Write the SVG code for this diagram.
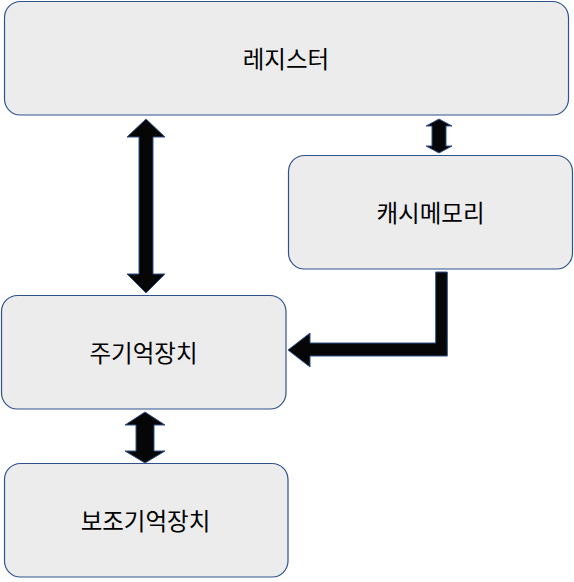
<svg xmlns="http://www.w3.org/2000/svg" width="574" height="582" viewBox="0 0 574 582">
<style>
.box{fill:#ececec;stroke:#2f528f;stroke-width:1.2}
.lbl{font-family:"Noto Sans CJK KR","Noto Sans",sans-serif;font-size:23.5px;fill:#000;text-anchor:middle;dominant-baseline:central}
.arr{fill:#060606;stroke:#2f528f;stroke-width:1}
</style>
<rect width="574" height="582" fill="#fff"/>
<g id="register"><rect class="box" x="4.5" y="1.5" width="564" height="113.5" rx="16"/><text class="lbl" x="286" y="58">레지스터</text></g>
<g id="cache"><rect class="box" x="288.5" y="155.5" width="284" height="113.5" rx="16"/><text class="lbl" x="430.5" y="212">캐시메모리</text></g>
<g id="main"><rect class="box" x="1.5" y="295.5" width="284.5" height="113.5" rx="16"/><text class="lbl" x="143.5" y="352">주기억장치</text></g>
<g id="aux"><rect class="box" x="4.5" y="463.5" width="283.5" height="113.5" rx="16"/><text class="lbl" x="145.5" y="520">보조기억장치</text></g>
<g id="connectors">
<path class="arr" d="M146,119 L165,137 L153,137 L153,274 L165,274 L146,293 L127,274 L139,274 L139,137 L127,137 Z"/>
<path class="arr" d="M439,119 L452,126 L446,126 L446,146 L452,146 L439,153 L426,146 L432,146 L432,126 L426,126 Z"/>
<path class="arr" d="M435.7,272 L447.3,272 L447.3,356 L310,356 L310,367 L288,350 L310,333 L310,343 L435.7,343 Z"/>
<path class="arr" d="M145,412 L165,425 L154,425 L154,451 L165,451 L145,463 L125,451 L136,451 L136,425 L125,425 Z"/>
</g>
</svg>
